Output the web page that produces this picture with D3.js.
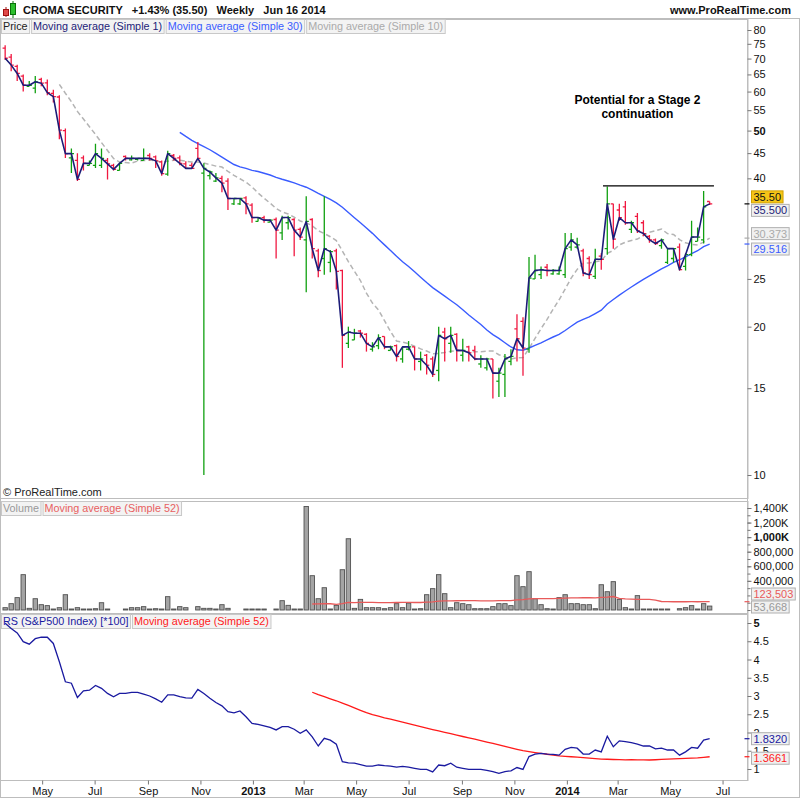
<!DOCTYPE html>
<html>
<head>
<meta charset="utf-8">
<title>CROMA SECURITY Weekly</title>
<script src="https://d3js.org/d3.v7.min.js"></script>
<style>
  body { margin: 0; background: #fff; }
  svg { display: block; font-family: "Liberation Sans", Arial, sans-serif; }
</style>
</head>
<body>
<div id="chart"></div>
<script>
  // weekly bars, Mondays from Mar 19 2012 to Jun 16 2014
  const firstWeek = new Date(2012, 2, 19);
  const lastWeek = new Date(2014, 5, 16);

  const opens = [73.5,70.5,67.5,64.5,61.5,61.0,63.5,62.5,59.5,58.5,
    50.0,44.0,43.5,44.0,42.5,42.5,42.5,43.5,42.5,41.5,
    44.3,43.6,43.7,43.5,44.5,44.2,43.2,40.8,44.5,44.0,
    42.8,42.5,46.0,41.0,40.5,39.5,40.0,39.5,35.5,35.5,
    36.5,35.3,32.7,33.3,32.6,33.0,31.0,32.5,33.0,31.5,
    30.0,33.0,28.5,27.5,27.0,28.5,26.0,18.5,18.8,19.6,
    19.3,18.0,18.3,19.1,17.9,18.3,17.2,18.0,18.2,17.0,
    17.5,17.2,16.3,19.5,18.5,19.3,17.5,18.2,17.9,16.8,
    16.5,17.2,15.5,16.0,17.0,19.8,20.5,18.0,25.0,25.5,
    26.4,25.6,25.6,25.5,29.0,29.0,28.5,27.5,25.3,27.8,
    28.8,35.5,34.5,35.0,31.5,33.5,32.5,30.5,30.0,29.2,
    27.0,27.5,29.0,26.5,28.0,29.8,30.0,35.9];
  const highs = [74.5,71.5,68.0,65.0,63.0,64.5,64.0,63.5,60.5,59.0,
    50.5,46.0,45.0,44.5,43.5,47.0,46.0,44.0,42.8,43.0,
    44.5,44.5,44.0,46.0,45.0,44.5,43.5,45.5,44.8,44.5,
    43.3,43.0,47.4,42.9,41.5,41.0,40.5,40.0,36.4,36.4,
    36.8,35.6,33.3,33.6,33.0,33.3,33.6,33.6,33.2,31.8,
    36.8,33.2,28.8,36.8,28.6,28.8,26.1,20.0,19.8,19.7,
    19.4,18.6,19.3,19.1,18.3,18.4,18.2,18.7,18.2,17.8,
    17.6,17.4,20.0,19.9,20.0,19.4,18.9,18.3,18.3,17.5,
    17.3,17.2,16.5,17.6,18.0,21.2,20.9,27.7,28.0,26.5,
    26.8,26.2,26.5,31.0,31.0,30.3,28.8,27.8,28.8,28.2,
    38.5,35.5,35.5,36.0,32.8,34.0,32.9,30.7,30.2,30.2,
    28.8,28.9,29.5,28.2,32.8,31.8,37.7,35.9];
  const lows = [69.5,66.0,63.0,60.0,61.5,59.5,61.5,59.0,57.0,48.0,
    44.0,41.0,39.5,41.5,42.5,42.0,42.0,39.8,41.5,41.5,
    43.5,43.5,43.5,43.5,43.5,42.0,40.5,40.5,43.5,42.5,
    41.8,41.8,43.5,10.0,39.8,39.3,37.5,34.5,35.3,35.3,
    33.8,32.5,32.7,32.5,32.6,27.5,30.0,31.5,27.8,30.0,
    23.5,27.5,25.2,25.5,25.8,23.8,16.5,18.1,18.8,19.0,
    17.8,17.8,18.0,18.0,17.9,17.0,16.9,17.9,16.3,16.3,
    16.0,15.8,15.5,17.0,17.7,17.0,17.0,17.0,17.1,16.5,
    16.3,14.3,14.4,14.4,16.7,17.0,15.9,17.7,25.0,25.0,
    25.3,25.5,25.5,25.1,28.5,28.8,25.3,25.0,25.0,26.1,
    28.0,28.8,32.8,32.2,31.0,31.0,30.5,29.6,29.3,28.8,
    26.8,27.0,26.0,26.0,27.8,29.8,29.5,35.3];
  const closes = [70.1,67.9,65.3,61.8,61.8,62.8,62.4,59.7,58.6,50.1,
    44.9,44.9,39.8,42.9,42.9,44.9,43.9,42.8,41.7,42.9,
    43.9,43.9,43.9,43.9,43.9,43.4,40.9,44.9,43.9,42.9,
    41.9,41.9,43.9,41.9,41.2,40.1,39.1,36.4,36.4,36.4,
    35.5,33.3,33.3,32.9,32.9,31.4,33.3,33.3,31.4,30.4,
    32.7,28.8,26.0,28.8,28.4,25.9,19.2,19.5,19.4,19.4,
    18.5,18.2,19.0,18.2,18.2,17.4,18.2,18.2,17.2,17.2,
    16.7,16.0,19.2,18.9,19.2,17.9,17.9,17.7,17.2,17.2,
    17.2,16.1,16.1,17.2,17.4,18.9,18.1,25.1,26.0,26.1,
    26.0,26.0,26.0,28.8,30.0,29.3,25.7,25.5,27.4,27.4,
    35.5,30.1,33.3,32.5,32.5,31.3,30.9,30.0,29.5,30.0,
    28.8,28.8,26.1,28.0,30.4,30.4,35.0,35.5];
  // volume in thousands
  const volumes = [32,87,170,485,23,155,73,60,10,32,
    210,10,32,10,10,18,100,10,0,0,
    8,32,32,46,10,18,10,183,10,46,
    32,0,46,23,23,10,73,23,0,0,
    5,5,5,5,0,5,128,64,5,5,
    1420,471,155,306,10,64,553,978,23,146,
    32,32,32,18,32,87,32,96,5,18,
    210,293,485,224,32,100,87,73,18,18,
    18,46,87,87,60,471,320,526,155,73,
    18,5,170,210,87,87,73,73,18,347,
    251,389,146,32,5,197,5,5,5,5,
    5,0,18,32,60,5,87,54];
  // relative strength vs S&P500 (*100)
  const rs = [4.99,4.85,4.73,4.49,4.42,4.57,4.61,4.61,4.44,3.94,
    3.39,3.35,2.96,3.14,3.16,3.29,3.21,3.07,2.98,3.07,
    3.07,3.10,3.10,3.05,3.00,2.92,2.83,3.03,3.03,2.98,
    2.95,2.94,3.18,3.07,2.94,2.82,2.73,2.57,2.54,2.59,
    2.43,2.25,2.22,2.18,2.14,2.07,2.16,2.16,2.09,1.98,
    2.07,1.88,1.63,1.84,1.79,1.68,1.20,1.17,1.16,1.12,
    1.08,1.08,1.11,1.09,1.08,1.05,1.07,1.05,1.02,0.99,
    0.99,0.92,1.11,1.09,1.16,1.05,1.02,0.99,0.99,0.99,
    0.96,0.93,0.88,0.93,0.95,1.04,0.99,1.34,1.41,1.43,
    1.41,1.40,1.38,1.54,1.59,1.57,1.41,1.41,1.52,1.47,
    1.90,1.61,1.77,1.75,1.72,1.68,1.63,1.63,1.55,1.57,
    1.52,1.52,1.38,1.47,1.59,1.57,1.79,1.83];

  const priceTicks = [10, 15, 20, 25, 40, 45, 50, 55, 60, 65, 70, 75, 80];
  const volTicks = [400000, 600000, 800000, 1000000, 1200000, 1400000];
  const volTickLabels = ["400,000", "600,000", "800,000", "1,000K", "1,200K", "1,400K"];
  const rsTicks = [1, 1.5, 2, 2.5, 3, 3.5, 4, 4.5, 5];
  const rsTickLabels = ["1", "1.5", "2", "2.5", "3", "3.5", "4", "4.5", "5"];
  const lastLabels = { close: "35.50", ma1: "35.500", ma10: "30.373", ma30: "29.516",
    vol: "53,668", volMa: "123,503", rs: "1.8320", rsMa: "1.3661" };
  const resistance = { from: new Date(2014, 1, 12), to: new Date(2014, 5, 21), level: 38.6 };
  const note = { date: new Date(2014, 2, 24), price: 56.5, lines: ["Potential for a Stage 2", "continuation"] };

  const GREEN = "#10a010", RED = "#f01840", NAVY = "#1c1c78", BLUE = "#3a5cff",
    GREY = "#b4b4b4", RSBLUE = "#1a1aa0", RSRED = "#ff1a1a";

  const dates = d3.timeMonday.range(firstWeek, d3.timeDay.offset(lastWeek, 1));
  const bars = dates.map((d, i) => ({
    date: d, open: opens[i], high: highs[i], low: lows[i], close: closes[i],
    volume: volumes[i] * 1000, rs: rs[i]
  }));

  function sma(values, n) {
    return values.map((v, i) => i < n - 1 ? null : d3.mean(values.slice(i - n + 1, i + 1)));
  }
  const ma10 = sma(closes, 10), ma30 = sma(closes, 30);
  const volMa = sma(volumes.map(v => v * 1000), 52);
  const rsMa = sma(rs, 52);

  const W = 800, H = 800, plotR = 747.5;
  const pTop = 19, pBot = 498, vTop = 501, vBot = 613, rTop = 614, rBot = 780;

  const svg = d3.select("#chart").append("svg").attr("width", W).attr("height", H);

  const x = d3.scaleTime()
    .domain([new Date(2012, 2, 13), new Date(2014, 6, 30)])
    .range([0, plotR]);
  const yP = d3.scaleLog().domain([10, 80]).range([475, 30]);
  const yV = d3.scaleLinear().domain([0, 1400000]).range([610, 508]);
  const yR = d3.scaleLinear().domain([1, 5]).range([769, 623]);

  const defs = svg.append("defs");
  [["clipP", pTop, pBot], ["clipV", vTop, vBot], ["clipR", rTop, rBot]].forEach(c => {
    defs.append("clipPath").attr("id", c[0]).append("rect")
      .attr("x", 1).attr("y", c[1] + 1).attr("width", plotR - 1).attr("height", c[2] - c[1] - 1);
  });

  // frames
  svg.append("rect").attr("x", 0.5).attr("y", 18.5).attr("width", W - 1).attr("height", 779)
    .attr("fill", "none").attr("stroke", "#bdbdbd");
  [[pTop, pBot], [vTop, vBot], [rTop, rBot]].forEach(p => {
    svg.append("rect").attr("x", 0.5).attr("y", p[0] + 0.5).attr("width", plotR)
      .attr("height", p[1] - p[0]).attr("fill", "none").attr("stroke", "#bdbdbd");
  });

  // header
  const icon = svg.append("g");
  icon.append("line").attr("x1", 6).attr("x2", 6).attr("y1", 7).attr("y2", 17).attr("stroke", "#a01010");
  icon.append("rect").attr("x", 3.5).attr("y", 9.5).attr("width", 5).attr("height", 6)
    .attr("fill", "#e04848").attr("stroke", "#a01010");
  icon.append("line").attr("x1", 13).attr("x2", 13).attr("y1", 1).attr("y2", 18).attr("stroke", "#0a700a");
  icon.append("rect").attr("x", 10.5).attr("y", 3.5).attr("width", 5).attr("height", 11)
    .attr("fill", "#2cc02c").attr("stroke", "#0a700a");

  svg.append("text").attr("x", 23).attr("y", 14).attr("font-size", 11).attr("font-weight", "bold")
    .attr("fill", "#111").attr("xml:space", "preserve")
    .text("CROMA SECURITY   +1.43% (35.50)   Weekly   Jun 16 2014");
  svg.append("text").attr("x", 791).attr("y", 14).attr("font-size", 11).attr("font-weight", "bold")
    .attr("text-anchor", "end").attr("fill", "#111").text("www.ProRealTime.com");

  function legendRow(items, y0) {
    let cx = 1;
    items.forEach(it => {
      const g = svg.append("g");
      const t = g.append("text").attr("x", cx + 2).attr("y", y0 + 11).attr("font-size", 10.8)
        .attr("fill", it.color).text(it.label);
      const w = t.node().getComputedTextLength() + 3.5;
      g.insert("rect", "text").attr("x", cx + 0.5).attr("y", y0 + 0.5).attr("width", w).attr("height", 14)
        .attr("fill", "#f3f3f3").attr("stroke", "#c8c8c8");
      cx += w + 2;
    });
  }
  legendRow([{ label: "Price", color: "#222" }, { label: "Moving average (Simple 1)", color: NAVY },
    { label: "Moving average (Simple 30)", color: BLUE }, { label: "Moving average (Simple 10)", color: "#aaa" }], 19);
  legendRow([{ label: "Volume", color: "#999" }, { label: "Moving average (Simple 52)", color: "#e86060" }], 501);
  legendRow([{ label: "RS (S&P500 Index) [*100]", color: RSBLUE }, { label: "Moving average (Simple 52)", color: RSRED }], 614);

  svg.append("text").attr("x", 3).attr("y", 496).attr("font-size", 11).attr("fill", "#222")
    .text("\u00a9 ProRealTime.com");

  // price panel
  const gp = svg.append("g").attr("clip-path", "url(#clipP)");
  gp.append("path").datum(bars.map((b, i) => [b.date, ma10[i]]))
    .attr("fill", "none").attr("stroke", GREY).attr("stroke-width", 1.5).attr("stroke-dasharray", "5,3")
    .attr("d", d3.line().defined(d => d[1] != null).x(d => x(d[0])).y(d => yP(d[1])));
  gp.append("path").datum(bars.map((b, i) => [b.date, ma30[i]]))
    .attr("fill", "none").attr("stroke", BLUE).attr("stroke-width", 1.4)
    .attr("d", d3.line().defined(d => d[1] != null).x(d => x(d[0])).y(d => yP(d[1])));

  const ohlc = gp.selectAll(".bar").data(bars).enter().append("g")
    .attr("stroke", d => d.close >= d.open ? GREEN : RED).attr("stroke-width", 1.3);
  ohlc.append("line").attr("x1", d => x(d.date)).attr("x2", d => x(d.date))
    .attr("y1", d => yP(d.high)).attr("y2", d => yP(d.low));
  ohlc.append("line").attr("x1", d => x(d.date) - 2.6).attr("x2", d => x(d.date))
    .attr("y1", d => yP(d.open)).attr("y2", d => yP(d.open));
  ohlc.append("line").attr("x1", d => x(d.date)).attr("x2", d => x(d.date) + 2.6)
    .attr("y1", d => yP(d.close)).attr("y2", d => yP(d.close));

  gp.append("path").datum(bars)
    .attr("fill", "none").attr("stroke", NAVY).attr("stroke-width", 1.6).attr("stroke-linejoin", "round")
    .attr("d", d3.line().x(d => x(d.date)).y(d => yP(d.close)));

  gp.append("line").attr("x1", x(resistance.from)).attr("x2", x(resistance.to))
    .attr("y1", yP(resistance.level)).attr("y2", yP(resistance.level))
    .attr("stroke", "#000").attr("stroke-width", 1.3);

  note.lines.forEach((ln, k) => {
    svg.append("text").attr("x", x(note.date)).attr("y", yP(note.price) + k * 14)
      .attr("text-anchor", "middle").attr("font-size", 12).attr("font-weight", "bold")
      .attr("fill", "#000").text(ln);
  });

  // volume panel
  const gv = svg.append("g").attr("clip-path", "url(#clipV)");
  gv.selectAll(".vbar").data(bars.filter(b => b.volume > 0)).enter().append("rect")
    .attr("x", d => x(d.date) - 2.2).attr("width", 4.4)
    .attr("y", d => Math.min(yV(d.volume), yV(0) - 1)).attr("height", d => Math.max(1, yV(0) - yV(d.volume)))
    .attr("fill", "#a4a4a4").attr("stroke", "#505050").attr("stroke-width", 0.9);
  gv.append("path").datum(bars.map((b, i) => [b.date, volMa[i]]))
    .attr("fill", "none").attr("stroke", "#e85a5a").attr("stroke-width", 1.3)
    .attr("d", d3.line().defined(d => d[1] != null).x(d => x(d[0])).y(d => yV(d[1])));

  // RS panel
  const gr = svg.append("g").attr("clip-path", "url(#clipR)");
  gr.append("path").datum(bars.map((b, i) => [b.date, rsMa[i]]))
    .attr("fill", "none").attr("stroke", RSRED).attr("stroke-width", 1.3)
    .attr("d", d3.line().defined(d => d[1] != null).x(d => x(d[0])).y(d => yR(d[1])));
  gr.append("path").datum(bars)
    .attr("fill", "none").attr("stroke", RSBLUE).attr("stroke-width", 1.3)
    .attr("d", d3.line().x(d => x(d.date)).y(d => yR(d.rs)));

  // right axes
  svg.append("line").attr("x1", plotR).attr("x2", plotR).attr("y1", pTop).attr("y2", rBot)
    .attr("stroke", "#bdbdbd");

  function styleAxis(g, boldVal) {
    g.select(".domain").remove();
    g.selectAll(".tick line").attr("stroke", "#777");
    g.selectAll(".tick text").attr("font-size", 11).attr("fill", "#111")
      .attr("font-family", '"Liberation Sans", Arial, sans-serif')
      .attr("font-weight", d => d === boldVal ? "bold" : null);
  }
  const axP = svg.append("g").attr("transform", `translate(${plotR},0)`)
    .call(d3.axisRight(yP).tickValues(priceTicks).tickFormat(d3.format("d")).tickSize(4).tickPadding(2));
  styleAxis(axP, 50);

  const axVm = svg.append("g").attr("transform", `translate(${plotR},0)`)
    .call(d3.axisRight(yV).tickValues(d3.range(0, 1500000, 100000)).tickFormat("").tickSize(3));
  styleAxis(axVm, null);
  const axV = svg.append("g").attr("transform", `translate(${plotR},0)`)
    .call(d3.axisRight(yV).tickValues(volTicks).tickFormat((d, i) => volTickLabels[i]).tickSize(4).tickPadding(2));
  styleAxis(axV, 1000000);

  const axR = svg.append("g").attr("transform", `translate(${plotR},0)`)
    .call(d3.axisRight(yR).tickValues(rsTicks).tickFormat((d, i) => rsTickLabels[i]).tickSize(4).tickPadding(2));
  styleAxis(axR, 5);

  // last value boxes
  function valueBox(yc, label, color, fill, stroke) {
    const g = svg.append("g");
    const t = g.append("text").attr("x", 753.5).attr("y", yc + 4).attr("font-size", 11)
      .attr("fill", color).text(label);
    const w = t.node().getComputedTextLength() + 4;
    g.insert("rect", "text").attr("x", 751.5).attr("y", yc - 6).attr("width", w).attr("height", 12)
      .attr("fill", fill).attr("stroke", stroke);
  }
  function marker(yc, color) {
    svg.append("line").attr("x1", plotR - 3).attr("x2", plotR + 2).attr("y1", yc).attr("y2", yc)
      .attr("stroke", color).attr("stroke-width", 1.2);
  }
  const last = bars.length - 1;
  marker(yP(closes[last]), "#000");
  marker(yP(ma10[last]), "#aaa");
  marker(yP(ma30[last]), BLUE);
  valueBox(yP(closes[last]) - 7, lastLabels.close, "#111", "#f5c518", "#d0a000");
  valueBox(yP(closes[last]) + 6.5, lastLabels.ma1, NAVY, "#f0f0f0", "#b0b0b0");
  valueBox(yP(ma10[last]) - 4.5, lastLabels.ma10, "#aaa", "#f0f0f0", "#b0b0b0");
  valueBox(yP(ma30[last]) + 5, lastLabels.ma30, BLUE, "#f0f0f0", "#b0b0b0");

  marker(yV(volMa[last]), "#e85a5a");
  valueBox(594, lastLabels.volMa, "#e85a5a", "#f0f0f0", "#b0b0b0");
  valueBox(607, lastLabels.vol, "#999", "#f0f0f0", "#b0b0b0");

  marker(yR(rs[last]), RSBLUE);
  marker(yR(rsMa[last]), RSRED);
  valueBox(yR(rs[last]), lastLabels.rs, RSBLUE, "#f0f0f0", "#b0b0b0");
  valueBox(yR(rsMa[last]) + 1.5, lastLabels.rsMa, RSRED, "#f0f0f0", "#b0b0b0");

  // time axis
  const axX = svg.append("g").attr("transform", `translate(0,${rBot + 0.5})`)
    .call(d3.axisBottom(x).ticks(d3.timeMonth.every(2))
      .tickFormat(d => d.getMonth() === 0 ? d3.timeFormat("%Y")(d) : d3.timeFormat("%b")(d))
      .tickSize(4).tickPadding(3));
  axX.select(".domain").remove();
  axX.selectAll(".tick line").attr("stroke", "#777");
  axX.selectAll(".tick text").attr("font-size", 11).attr("fill", "#111")
    .attr("font-family", '"Liberation Sans", Arial, sans-serif')
    .attr("font-weight", d => d.getMonth() === 0 ? "bold" : null);
</script>
</body>
</html>
